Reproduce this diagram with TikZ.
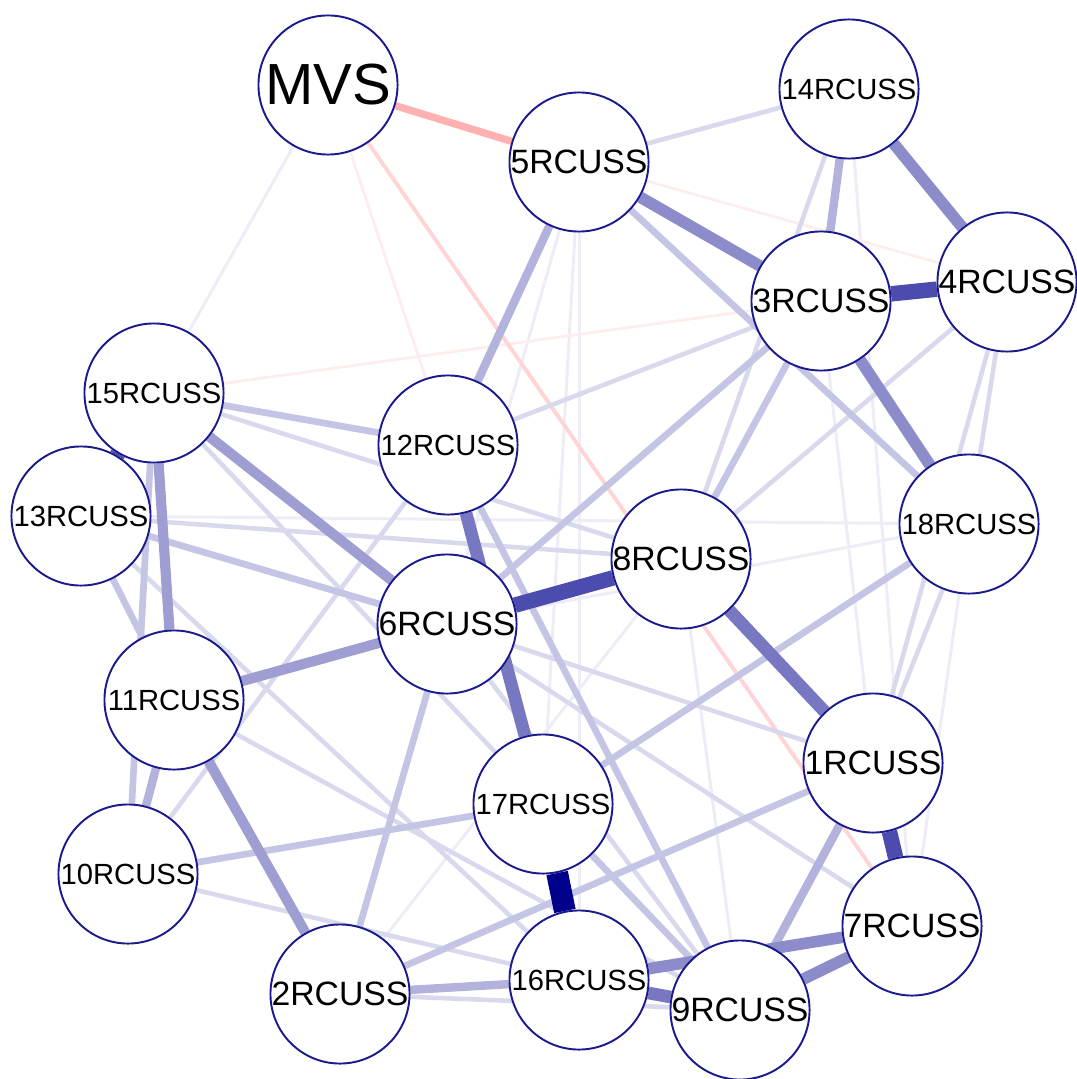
\documentclass[tikz,border=0pt]{standalone}
\usepackage{fontspec}
\setmainfont{Liberation Sans}
\usetikzlibrary{backgrounds}
\definecolor{qblue}{RGB}{0,0,139}
\definecolor{qrim}{RGB}{26,26,140}
\definecolor{qred}{RGB}{255,0,0}

\begin{document}
\begin{tikzpicture}[x=0.01cm,y=-0.01cm,
  item/.style={circle,draw=qrim,line width=0.55pt,fill=white,minimum size=1.39cm,inner sep=0pt,font=\fontsize{8.3}{10}\selectfont},
  big/.style={font=\fontsize{9.6}{11}\selectfont},
  huge/.style={font=\fontsize{16.5}{18}\selectfont},
  w1/.style={draw=qblue!7,line width=0.85pt},
  w2/.style={draw=qblue!15,line width=1.3pt},
  w3/.style={draw=qblue!23,line width=1.9pt},
  w4/.style={draw=qblue!30,line width=2.4pt},
  w5/.style={draw=qblue!38,line width=2.9pt},
  w6/.style={draw=qblue!45,line width=3.3pt},
  w7/.style={draw=qblue!53,line width=3.6pt},
  w8/.style={draw=qblue!70,line width=4.4pt},
  w9/.style={draw=qblue,line width=6.2pt},
  n1/.style={draw=qred!7,line width=0.8pt},
  n2/.style={draw=qred!17,line width=1.1pt},
  n3/.style={draw=qred!31,line width=2.1pt}]
\useasboundingbox (0,0) rectangle (1077,1079);
\node[item,huge] (M) at (328,85) {MVS};
\node[item,big] (R5) at (579,162) {5RCUSS};
\node[item] (R14) at (849,89) {14RCUSS};
\node[item,big] (R4) at (1007,282) {4RCUSS};
\node[item,big] (R3) at (821,301) {3RCUSS};
\node[item] (R13) at (81,516) {13RCUSS};
\node[item] (R15) at (154,393) {15RCUSS};
\node[item] (R12) at (448,445) {12RCUSS};
\node[item] (R18) at (969,524) {18RCUSS};
\node[item,big] (R8) at (681,559) {8RCUSS};
\node[item,big] (R6) at (447,624) {6RCUSS};
\node[item] (R11) at (174,700) {11RCUSS};
\node[item,big] (R1) at (873,763) {1RCUSS};
\node[item] (R17) at (543,804) {17RCUSS};
\node[item] (R10) at (128,874) {10RCUSS};
\node[item,big] (R7) at (912,926) {7RCUSS};
\node[item,big] (R2) at (340,994) {2RCUSS};
\node[item] (R16) at (579,980) {16RCUSS};
\node[item,big] (R9) at (740,1010) {9RCUSS};
\begin{scope}[on background layer]
\draw[w1] (M) -- (R15);
\draw[w1] (R13) -- (R18);
\draw[w1] (R6) -- (R18);
\draw[w1] (R5) -- (R6);
\draw[w1] (R5) -- (R17);
\draw[w1] (R5) -- (R16);
\draw[w1] (R8) -- (R9);
\draw[w1] (R2) -- (R8);
\draw[w1] (R14) -- (R7);
\draw[w1] (R3) -- (R1);
\draw[w1] (R18) -- (R7);
\draw[n1] (M) -- (R12);
\draw[n1] (R15) -- (R3);
\draw[n1] (R5) -- (R4);
\draw[n2] (M) -- (R7);
\draw[w2] (R3) -- (R12);
\draw[w2] (R4) -- (R18);
\draw[w2] (R4) -- (R1);
\draw[w2] (R18) -- (R1);
\draw[w2] (R4) -- (R8);
\draw[w2] (R14) -- (R8);
\draw[w2] (R14) -- (R5);
\draw[w2] (R13) -- (R8);
\draw[w2] (R13) -- (R16);
\draw[w2] (R10) -- (R16);
\draw[w2] (R10) -- (R12);
\draw[w2] (R11) -- (R9);
\draw[w2] (R2) -- (R9);
\draw[w2] (R6) -- (R1);
\draw[w2] (R6) -- (R7);
\draw[w2] (R15) -- (R9);
\draw[w2] (R6) -- (R9);
\draw[w2] (R15) -- (R8);
\draw[w3] (R15) -- (R12);
\draw[w3] (R18) -- (R17);
\draw[w3] (R10) -- (R17);
\draw[w3] (R2) -- (R6);
\draw[w3] (R13) -- (R6);
\draw[w3] (R1) -- (R2);
\draw[w3] (R3) -- (R8);
\draw[w3] (R3) -- (R6);
\draw[w3] (R13) -- (R11);
\draw[w3] (R15) -- (R10);
\draw[w3] (R17) -- (R9);
\draw[w3] (R12) -- (R9);
\draw[w3] (R5) -- (R18);
\draw[w4] (R1) -- (R9);
\draw[w4] (R11) -- (R10);
\draw[w4] (R14) -- (R3);
\draw[w4] (R5) -- (R12);
\draw[w4] (R2) -- (R16);
\draw[w5] (R11) -- (R6);
\draw[w5] (R11) -- (R2);
\draw[w5] (R15) -- (R11);
\draw[w5] (R15) -- (R6);
\draw[w6] (R14) -- (R4);
\draw[w6] (R3) -- (R18);
\draw[w6] (R9) -- (R7);
\draw[w6] (R5) -- (R3);
\draw[w6] (R16) -- (R7);
\draw[w7] (R8) -- (R1);
\draw[w7] (R12) -- (R17);
\draw[w7] (R16) -- (R9);
\draw[w8] (R6) -- (R8);
\draw[w8] (R3) -- (R4);
\draw[w8] (R1) -- (R7);
\draw[w8] (R15) -- (R13);
\draw[w9] (R17) -- (R16);
\draw[n3] (M) -- (R5);
\end{scope}
\end{tikzpicture}
\end{document}
